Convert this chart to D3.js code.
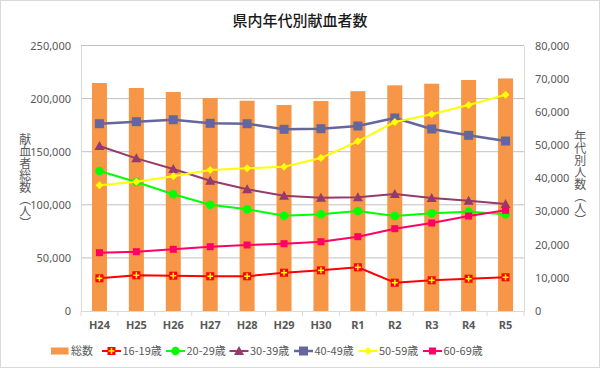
<!DOCTYPE html>
<html><head><meta charset="utf-8">
<script src="https://cdn.jsdelivr.net/npm/d3@7/dist/d3.min.js"></script>
<style>
body{margin:0;background:#fff;}
svg{display:block;font-family:"Noto Sans CJK JP","Noto Sans",sans-serif;}
</style></head><body>
<svg id="c" width="600" height="368"></svg>
<script>
const categories = ["H24","H25","H26","H27","H28","H29","H30","R1","R2","R3","R4","R5"];
const totalValues = [214700,210000,206200,200600,198000,194000,197700,207000,212500,214000,217500,219000];
const age16_19 = [9850,10760,10640,10460,10460,11540,12250,13170,8530,9250,9730,10150];
const age20_29 = [42180,38870,35160,32030,30630,28710,29130,30130,28620,29430,29920,29130];
const age30_39 = [49720,46000,42780,39260,36670,34740,34140,34260,35250,34050,33230,32240];
const age40_49 = [56430,57040,57640,56550,56430,54740,54930,55740,58150,54840,52930,51220];
const age50_59 = [37870,38960,40580,42480,43000,43480,46100,51130,56950,59260,62070,65170];
const age60_69 = [17570,17870,18590,19380,19890,20280,20880,22390,24800,26520,28620,30340];
const leftTicks = [0,50000,100000,150000,200000,250000];
const rightTicks = [0,10000,20000,30000,40000,50000,60000,70000,80000];
const seriesNames = ["16-19歳","20-29歳","30-39歳","40-49歳","50-59歳","60-69歳"];
const totalName = "総数";

const series = [
  {name:seriesNames[0], values:age16_19, color:"#FF0000", marker:"cross", w:2},
  {name:seriesNames[1], values:age20_29, color:"#00FF00", marker:"circle", w:2},
  {name:seriesNames[2], values:age30_39, color:"#953B6B", marker:"triangle", w:2},
  {name:seriesNames[3], values:age40_49, color:"#66669E", marker:"square", w:2.5},
  {name:seriesNames[4], values:age50_59, color:"#FFFF00", marker:"diamond", w:2},
  {name:seriesNames[5], values:age60_69, color:"#FF0066", marker:"smallsquare", w:2}
];

const svg = d3.select("#c");
const M = {l:81, r:524, t:45.5, b:311};
const textCol = "#595959";

svg.append("rect").attr("x",0.5).attr("y",0.5).attr("width",599).attr("height",367)
  .attr("fill","#fff").attr("stroke","#D9D9D9");

const x = d3.scaleBand().domain(categories).range([M.l,M.r]).padding(0);
const yL = d3.scaleLinear().domain([0,250000]).range([M.b,M.t]);
const yR = d3.scaleLinear().domain([0,80000]).range([M.b,M.t]);

// gridlines
svg.append("g").selectAll("line").data(leftTicks.slice(1)).join("line")
  .attr("x1",M.l).attr("x2",M.r).attr("y1",d=>yL(d)).attr("y2",d=>yL(d))
  .attr("stroke","#C0C0C0").attr("stroke-width",1);

// axes
const gL = svg.append("g").attr("transform",`translate(${M.l},0)`)
  .call(d3.axisLeft(yL).tickValues(leftTicks).tickFormat(d3.format(",")).tickSize(0).tickPadding(10));
const gR = svg.append("g").attr("transform",`translate(${M.r},0)`)
  .call(d3.axisRight(yR).tickValues(rightTicks).tickFormat(d3.format(",")).tickSize(0).tickPadding(11));
[gL,gR].forEach(g=>{
  g.select(".domain").attr("stroke","#D9D9D9");
  g.selectAll("text").attr("fill",textCol).attr("font-size",11).attr("font-family","'Noto Sans','Noto Sans CJK JP',sans-serif");
});

const gX = svg.append("g").attr("transform",`translate(0,${M.b})`)
  .call(d3.axisBottom(x).tickSize(0).tickPadding(10));
gX.select(".domain").attr("stroke","#D9D9D9");
gX.selectAll("text").attr("fill",textCol).attr("font-size",11).attr("font-weight","bold").attr("font-family","'Noto Sans','Noto Sans CJK JP',sans-serif");
// category boundary ticks
gX.append("g").selectAll("line").data(categories.slice(1).concat(["__end"])).join("line")
  .attr("x1",(d,i)=>x(categories[0])+x.bandwidth()*(i+1)).attr("x2",(d,i)=>x(categories[0])+x.bandwidth()*(i+1))
  .attr("y1",0).attr("y2",5).attr("stroke","#D9D9D9");
gX.append("line").attr("x1",M.l).attr("x2",M.l).attr("y1",0).attr("y2",5).attr("stroke","#D9D9D9");

// bars
const bw = 15;
svg.append("g").selectAll("rect").data(totalValues).join("rect")
  .attr("x",(d,i)=>x(categories[i])+x.bandwidth()/2-bw/2)
  .attr("width",bw)
  .attr("y",d=>yL(d)).attr("height",d=>M.b-yL(d))
  .attr("fill","#F79646");

function drawMarker(g, type, color, cx, cy){
  if(type==="cross"){
    g.append("rect").attr("x",cx-4).attr("y",cy-4).attr("width",8).attr("height",8).attr("fill",color);
    g.append("line").attr("x1",cx-3).attr("x2",cx+3).attr("y1",cy).attr("y2",cy).attr("stroke","#FFFF00").attr("stroke-width",1.5);
    g.append("line").attr("x1",cx).attr("x2",cx).attr("y1",cy-3).attr("y2",cy+3).attr("stroke","#FFFF00").attr("stroke-width",1.5);
  } else if(type==="circle"){
    g.append("circle").attr("cx",cx).attr("cy",cy).attr("r",4.3).attr("fill",color);
  } else if(type==="triangle"){
    g.append("path").attr("d",`M${cx},${cy-5}L${cx+5},${cy+4}L${cx-5},${cy+4}Z`).attr("fill",color);
  } else if(type==="square"){
    g.append("rect").attr("x",cx-4.5).attr("y",cy-4.5).attr("width",9).attr("height",9).attr("fill",color);
  } else if(type==="diamond"){
    g.append("path").attr("d",`M${cx},${cy-4}L${cx+4},${cy}L${cx},${cy+4}L${cx-4},${cy}Z`).attr("fill",color);
  } else if(type==="smallsquare"){
    g.append("rect").attr("x",cx-3.5).attr("y",cy-3.5).attr("width",7).attr("height",7).attr("fill",color);
  }
}

const line = d3.line();
series.forEach(s=>{
  const pts = s.values.map((v,i)=>[x(categories[i])+x.bandwidth()/2, yR(v)]);
  const g = svg.append("g");
  g.append("path").attr("d",line(pts)).attr("fill","none").attr("stroke",s.color).attr("stroke-width",s.w).attr("stroke-linejoin","round");
  pts.forEach(p=>drawMarker(g,s.marker,s.color,p[0],p[1]));
});

// title
svg.append("text").attr("x",300).attr("y",26).attr("text-anchor","middle")
  .attr("font-size",15).attr("font-weight","500").attr("fill","#1a1a1a").text("県内年代別献血者数");

// axis titles (vertical)
svg.append("text").attr("x",23).attr("y",181)
  .attr("text-anchor","middle").attr("font-size",12).attr("fill",textCol)
  .style("writing-mode","vertical-rl").style("text-orientation","upright")
  .attr("dominant-baseline","middle")
  .text("献血者総数（人）");
svg.append("text").attr("x",578).attr("y",178)
  .attr("text-anchor","middle").attr("font-size",12).attr("fill",textCol)
  .style("writing-mode","vertical-rl").style("text-orientation","upright")
  .attr("dominant-baseline","middle")
  .text("年代別人数（人）");

// legend
const lg = svg.append("g");
const ly = 351;
lg.append("rect").attr("x",51).attr("y",ly-3.5).attr("width",17.5).attr("height",7).attr("fill","#F79646");
lg.append("text").attr("x",71).attr("y",ly).attr("dy","0.35em").attr("font-size",11).attr("fill",textCol).text(totalName);
const legX = [102,166,229.5,294,358.5,423];
series.forEach((s,i)=>{
  const x0 = legX[i];
  lg.append("line").attr("x1",x0).attr("x2",x0+19).attr("y1",ly).attr("y2",ly).attr("stroke",s.color).attr("stroke-width",s.w);
  drawMarker(lg,s.marker,s.color,x0+9.5,ly);
  lg.append("text").attr("x",x0+20.5).attr("y",ly).attr("dy","0.35em").attr("font-size",11).attr("fill",textCol).text(s.name);
});
</script>
</body></html>
